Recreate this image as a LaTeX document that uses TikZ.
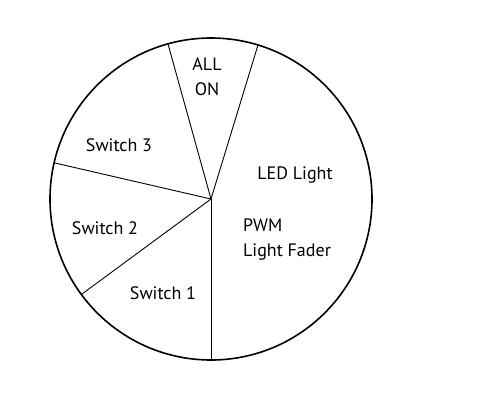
\documentclass[tikz,border=0pt]{standalone}
\usepackage{fontspec}
\setmainfont{PT Sans}
\begin{document}
\begin{tikzpicture}[x=1pt,y=-1pt,
  rim/.style={draw=black,line width=1.6pt},
  spoke/.style={draw=black,line width=0.9pt},
  lbl/.style={font=\fontsize{18}{25}\selectfont,inner sep=0pt}]
\useasboundingbox (0,0) rectangle (484,407);
\coordinate (c) at (211,199);
\node[circle,minimum size=322pt,inner sep=0pt,rim] (rimc) at (c) {};
\coordinate (a) at (168,44);
\coordinate (b) at (258,45);
\coordinate (d) at (55,163);
\coordinate (e) at (82,294);
\coordinate (f) at (211,360);
\draw[spoke] (c) -- (a);
\draw[spoke] (c) -- (b);
\draw[spoke] (c) -- (d);
\draw[spoke] (c) -- (e);
\draw[spoke] (c) -- (f);
\node[lbl,align=center] (allon) at (207,77) {ALL\\ON};
\node[lbl] (sw3) at (119,145) {Switch 3};
\node[lbl] (led) at (295,175) {LED Light};
\node[lbl,align=left] (pwm) at (287,240) {PWM\\Light Fader};
\node[lbl] (sw2) at (105,228) {Switch 2};
\node[lbl] (sw1) at (163,293) {Switch 1};
\end{tikzpicture}
\end{document}
